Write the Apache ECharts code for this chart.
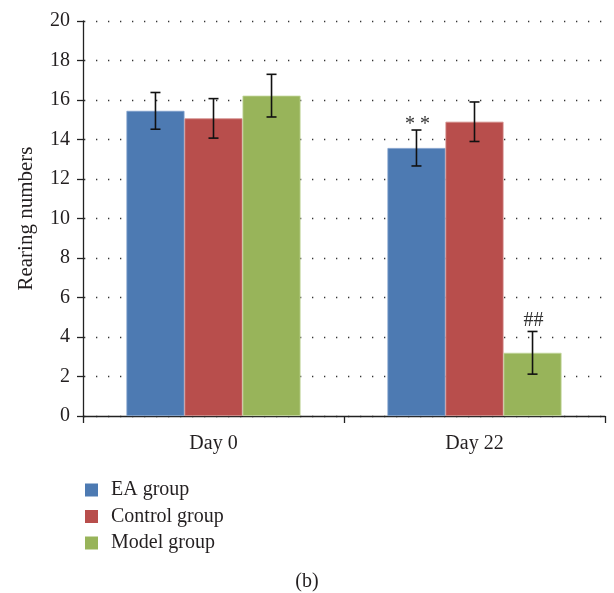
<!DOCTYPE html>
<html><head><meta charset="utf-8">
<script src="https://cdn.jsdelivr.net/npm/echarts@6/dist/echarts.min.js"></script>
<style>html,body{margin:0;padding:0;background:#fff}#c{width:614px;height:593px}</style>
</head><body><div id="c"></div>
<script>
const categories = ['Day 0', 'Day 22'];
const seriesNames = ['EA group', 'Control group', 'Model group'];
const eaValues = [15.45, 13.57];
const controlValues = [15.07, 14.9];
const modelValues = [16.22, 3.2];
const eaErrors = [0.93, 0.91];
const controlErrors = [1.0, 1.0];
const modelErrors = [1.08, 1.08];
const eaMarks = ['', '* *'];
const controlMarks = ['', ''];
const modelMarks = ['', '##'];
const yTicks = [0, 2, 4, 6, 8, 10, 12, 14, 16, 18, 20];

const colors = ['#4d7ab2', '#b84e4c', '#98b45a'];
const borders = ['#7f9fcc', '#d28a88', '#c2d69a'];
const FONT = '"Liberation Serif", "DejaVu Serif", serif';
const TXT = '#231f20';
const catGap = 0.333;

const groups = [
  {name: seriesNames[0], values: eaValues, errors: eaErrors, marks: eaMarks},
  {name: seriesNames[1], values: controlValues, errors: controlErrors, marks: controlMarks},
  {name: seriesNames[2], values: modelValues, errors: modelErrors, marks: modelMarks}
];

const series = [];
groups.forEach((g, k) => {
  series.push({
    name: g.name, type: 'bar', data: g.values,
    barGap: '0%', barCategoryGap: (catGap * 100) + '%',
    itemStyle: {color: colors[k], borderColor: borders[k], borderWidth: 0.8},
    emphasis: {disabled: true}
  });
});
groups.forEach((g, k) => {
  series.push({
    type: 'custom', silent: true, z: 10,
    data: g.values.map((v, i) => [i, v, g.errors[i]]),
    renderItem: function (params, api) {
      const ci = api.value(0), v = api.value(1), e = api.value(2);
      const mark = g.marks[params.dataIndex];
      const c = api.coord([ci, v]);
      const bandW = api.size([1, 0])[0];
      const barW = bandW * (1 - catGap) / 3;
      const x = c[0] + (k - 1) * barW;
      const top = api.coord([ci, v + e])[1];
      const bot = api.coord([ci, v - e])[1];
      const cap = 5;
      const st = {stroke: '#111', lineWidth: 1.6};
      const children = [
        {type: 'line', shape: {x1: x, y1: top, x2: x, y2: bot}, style: st},
        {type: 'line', shape: {x1: x - cap, y1: top, x2: x + cap, y2: top}, style: st},
        {type: 'line', shape: {x1: x - cap, y1: bot, x2: x + cap, y2: bot}, style: st}
      ];
      if (mark) {
        const isStar = mark.indexOf('*') >= 0;
        children.push({type: 'text', style: {text: mark, x: x + (isStar ? 1 : 1), y: top + (isStar ? 5 : -1),
          align: 'center', verticalAlign: 'bottom',
          font: (isStar ? '20px ' : '20px ') + FONT, fill: '#333'}});
      }
      return {type: 'group', children: children};
    }
  });
});

const chart = echarts.init(document.getElementById('c'), null, {renderer: 'canvas'});
chart.setOption({
  animation: false,
  color: colors,
  textStyle: {fontFamily: FONT, color: TXT},
  grid: {left: 83, right: 9, top: 21, bottom: 177, containLabel: false},
  title: {text: '(b)', left: 'center', top: 567, textStyle: {fontFamily: FONT, fontSize: 20, fontWeight: 'normal', color: TXT}},
  legend: {
    data: seriesNames, orient: 'vertical', left: 80, top: 475,
    icon: 'rect', itemWidth: 13, itemHeight: 13, itemGap: 6.5,
    itemStyle: {borderWidth: 0},
    textStyle: {fontFamily: FONT, fontSize: 20, color: TXT, padding: [0, 0, 0, 8]},
    selectedMode: false
  },
  xAxis: {
    type: 'category', data: categories,
    axisLine: {lineStyle: {color: '#222', width: 1.3}},
    axisTick: {show: true, length: 7, lineStyle: {color: '#222', width: 1.3}},
    axisLabel: {fontFamily: FONT, fontSize: 20, color: TXT, margin: 18}
  },
  yAxis: {
    type: 'value', min: yTicks[0], max: yTicks[yTicks.length - 1], interval: 2,
    name: 'Rearing numbers', nameLocation: 'middle', nameGap: 46, nameRotate: 90,
    nameTextStyle: {fontFamily: FONT, fontSize: 21, color: TXT},
    axisLine: {show: true, lineStyle: {color: '#222', width: 1.3}},
    axisTick: {show: true, length: 6, lineStyle: {color: '#222', width: 1.3}},
    axisLabel: {fontFamily: FONT, fontSize: 20, color: TXT, margin: 13},
    splitLine: {show: true, lineStyle: {color: '#333', width: 1.3, type: [1.3, 10.7], dashOffset: -1}}
  },
  series: series
});
</script></body></html>
